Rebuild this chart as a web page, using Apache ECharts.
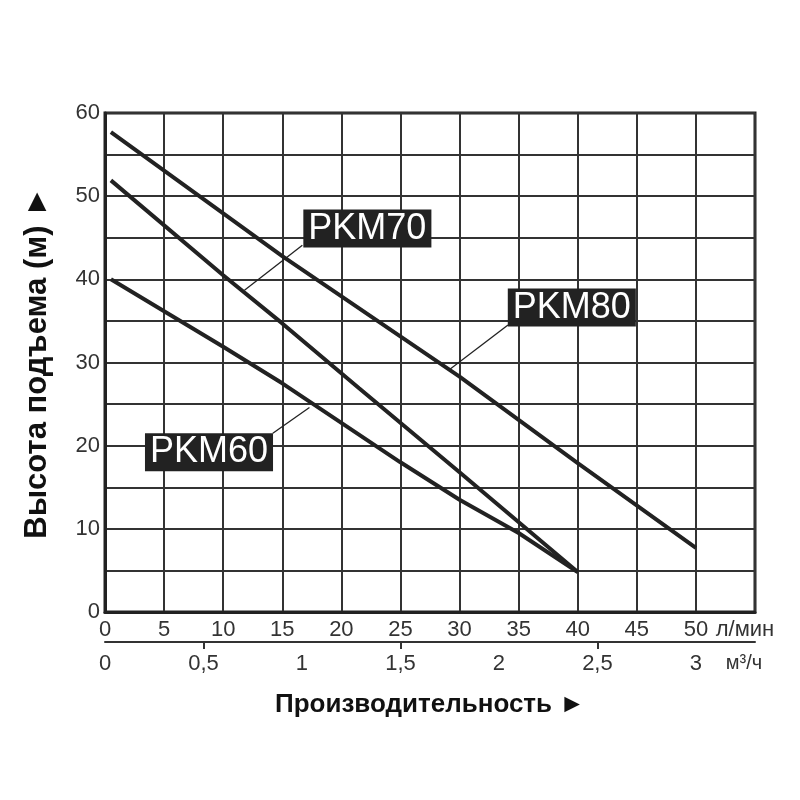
<!DOCTYPE html>
<html>
<head>
<meta charset="utf-8">
<script src="https://cdn.jsdelivr.net/npm/echarts@6/dist/echarts.min.js"></script>
<style>
  html, body { margin: 0; padding: 0; background: #fff; }
  #chart { width: 800px; height: 800px; }
</style>
</head>
<body>
<div id="chart"></div>
<script>
// данные кривых: расход (л/мин) и напор (м)
var pkm80Flow = [0.5, 15, 30, 40, 50];
var pkm80Head = [57.7, 42.8, 28.3, 17.9, 7.7];
var pkm70Flow = [0.5, 10, 15, 21.5, 30, 40];
var pkm70Head = [51.9, 40.5, 34.7, 26.9, 16.8, 4.8];
var pkm60Flow = [0.5, 10, 15, 25, 30, 35, 40];
var pkm60Head = [40, 31.9, 27.5, 18, 13.5, 9.5, 4.8];

// подписи моделей: центр плашки и выноска (в единицах осей)
var tagNames = ["PKM70", "PKM80", "PKM60"];
var tagCenterX = [22.2, 39.5, 8.8];
var tagCenterY = [46.1, 36.6, 19.2];
var leaderFromX = [16.7, 34.1, 14.2];
var leaderFromY = [44.1, 34.5, 21.5];
var leaderToX = [11.8, 29.1, 17.3];
var leaderToY = [38.7, 29.1, 24.6];

// оси
var lpmTicks = [0, 5, 10, 15, 20, 25, 30, 35, 40, 45, 50, 55];
var m3hLabels = [0, 0.5, 1, 1.5, 2, 2.5, 3, 3.3];
var m3hTicks = [0.5, 1.5, 2.5];
var unitLpm = "л/мин";
var unitM3h = "м³/ч";

var fontName = "Liberation Sans";
var ink = "#222";

function pairs(xs, ys) {
    var out = [];
    for (var i = 0; i < xs.length; i++) out.push([xs[i], ys[i]]);
    return out;
}

var series = [];
function curve(name, xs, ys) {
    series.push({
        name: name, type: "line", data: pairs(xs, ys),
        symbol: "none", lineStyle: { color: ink, width: 4 }, z: 3,
        xAxisIndex: 0, yAxisIndex: 0
    });
}
curve("PKM80", pkm80Flow, pkm80Head);
curve("PKM70", pkm70Flow, pkm70Head);
curve("PKM60", pkm60Flow, pkm60Head);

for (var i = 0; i < tagNames.length; i++) {
    //выноска
    series.push({
        type: "line", silent: true,
        data: [[leaderFromX[i], leaderFromY[i]], [leaderToX[i], leaderToY[i]]],
        symbol: "none", lineStyle: { color: ink, width: 1.3 }, z: 4
    });
    //чёрная плашка с белым текстом
    series.push({
        type: "scatter", silent: true, symbolSize: 0, z: 5,
        itemStyle: { opacity: 1 },
        data: [[tagCenterX[i], tagCenterY[i]]],
        label: {
            show: true, position: "inside", formatter: tagNames[i],
            color: "#fff", backgroundColor: ink, opacity: 1,
            fontFamily: fontName, fontSize: 36, lineHeight: 37,
            padding: [1, 5, 0, 5]
        }
    });
}

var chart = echarts.init(document.getElementById("chart"));
chart.setOption({
    animation: false,
    grid: {
        left: 105, right: 45, top: 113, bottom: 188,
        show: true, borderColor: ink, borderWidth: 3
    },
    xAxis: [{
        type: "value", min: 0, max: 55, interval: 5, position: "bottom",
        axisLine: { show: true, lineStyle: { color: ink, width: 3 } },
        axisTick: { show: false },
        axisLabel: {
            fontFamily: fontName, fontSize: 22, color: "#333", margin: 7,
            showMaxLabel: true,
            formatter: function (v) {
                return v === 55 ? "{u|" + unitLpm + "}" : String(v);
            },
            rich: { u: { fontFamily: fontName, fontSize: 22, color: "#333", padding: [0, 20, 0, 0] } }
        },
        splitLine: { show: true, lineStyle: { color: "#333", width: 2 } }
    }, {
        type: "value", min: 0, max: 3.3, position: "bottom", offset: 30,
        axisLine: { show: true, onZero: false, lineStyle: { color: "#333", width: 2 } },
        axisTick: { show: true, customValues: m3hTicks, length: 7, lineStyle: { color: "#333", width: 2 } },
        axisLabel: {
            customValues: m3hLabels,
            fontFamily: fontName, fontSize: 22, color: "#333", margin: 11,
            formatter: function (v) {
                if (Math.abs(v - 3.3) < 1e-6) return "{u|" + unitM3h + "}";
                return String(v).replace(".", ",");
            },
            rich: { u: { fontFamily: fontName, fontSize: 20, color: "#333", padding: [0, 22, 0, 0] } }
        },
        splitLine: { show: false },
        name: "Производительность ►",
        nameLocation: "middle", nameGap: 50,
        nameTextStyle: { fontFamily: fontName, fontSize: 26, fontWeight: "bold", color: "#111" }
    }],
    yAxis: {
        type: "value", min: 0, max: 60, interval: 5,
        axisLine: { show: true, lineStyle: { color: ink, width: 3 } },
        axisTick: { show: false },
        axisLabel: {
            fontFamily: fontName, fontSize: 22, color: "#333", margin: 5,
            formatter: function (v) { return v % 10 === 0 ? String(v) : ""; }
        },
        splitLine: { show: true, lineStyle: { color: "#333", width: 2 } },
        name: "Высота подъема (м) ►",
        nameLocation: "middle", nameGap: 52, nameRotate: 90,
        nameTextStyle: { fontFamily: fontName, fontSize: 31, fontWeight: "bold", color: "#111" }
    },
    series: series
});
</script>
</body>
</html>
